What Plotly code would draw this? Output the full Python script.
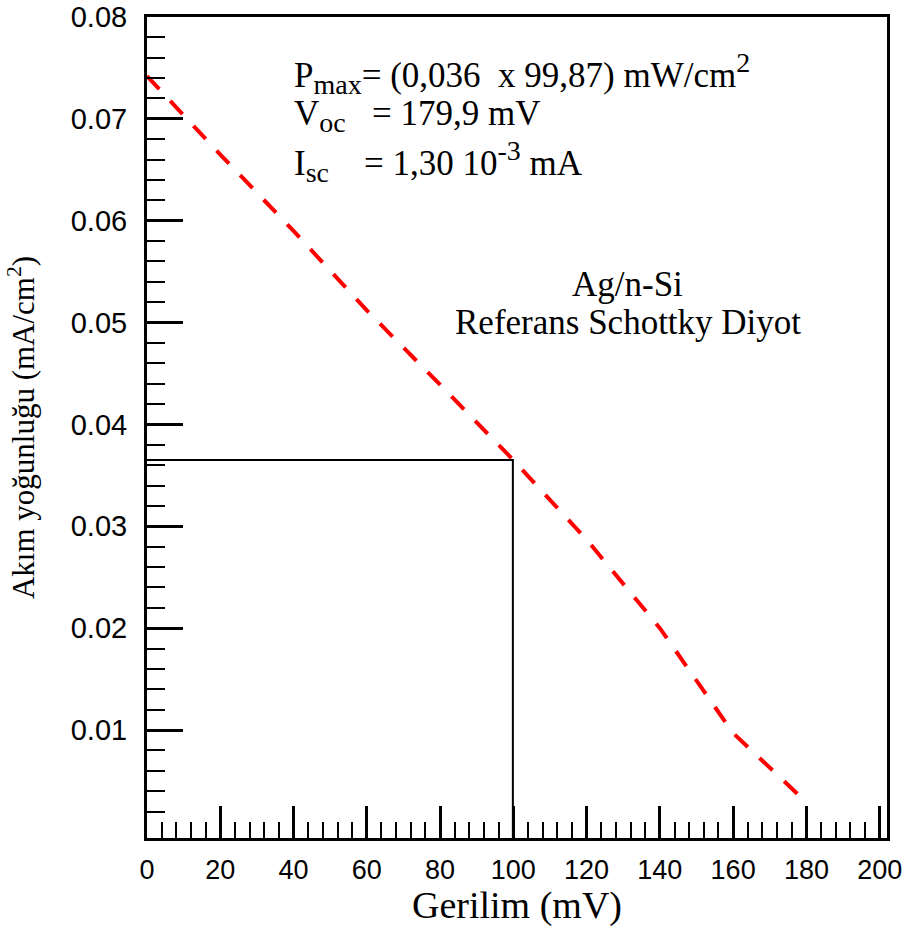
import plotly.graph_objects as go

# Data
voltage_mV = [0, 20, 40, 60, 80, 100, 120, 140, 160, 180]
current_density = [0.0742, 0.0665, 0.0590, 0.0512, 0.0439, 0.0365, 0.0287, 0.0200, 0.0097, 0.0029]

v_max = 99.87
j_max = 0.0365
y_floor = -0.0006

x_ticks = [0, 20, 40, 60, 80, 100, 120, 140, 160, 180, 200]
y_ticks = [0.01, 0.02, 0.03, 0.04, 0.05, 0.06, 0.07, 0.08]
y_tick_labels = ["0.01", "0.02", "0.03", "0.04", "0.05", "0.06", "0.07", "0.08"]
y_minor_ticks = [round(0.002 * k, 3) for k in range(1, 40) if k % 5 != 0]

SUB = '<span style="font-size:28px">{}</span>'
info_lines = [
    "P<sub>" + SUB.format("max") + "</sub>= (0,036\u00a0\u00a0x 99,87) mW/cm<sup>" + SUB.format("2") + "</sup>",
    "V<sub>" + SUB.format("oc") + "</sub>\u00a0\u00a0 = 179,9 mV",
    "I<sub>" + SUB.format("sc") + "</sub>\u00a0\u00a0\u00a0 = 1,30 10<sup>" + SUB.format("-3") + "</sup> mA",
]
device_lines = ["Ag/n-Si", "Referans Schottky Diyot"]

serif = "Liberation Serif, Times New Roman, serif"
sans = "Liberation Sans, Arial, sans-serif"

fig = go.Figure()

fig.add_trace(go.Scatter(
    x=[0, v_max, v_max], y=[j_max, j_max, y_floor],
    mode="lines", line=dict(color="black", width=2),
    showlegend=False, hoverinfo="skip", cliponaxis=False,
))

fig.add_trace(go.Scatter(
    x=voltage_mV, y=current_density,
    mode="lines", line=dict(color="#ff0000", width=4, dash="18px,16px"),
    showlegend=False,
))

info_y = [0.0745, 0.0703, 0.0658]
for txt, yy in zip(info_lines, info_y):
    fig.add_annotation(x=39.5, y=yy, xref="x", yref="y", text=txt,
                       showarrow=False, xanchor="left", yanchor="middle",
                       font=dict(family=serif, size=35, color="black"))

dev_y = [0.0537, 0.0500]
for txt, yy in zip(device_lines, dev_y):
    fig.add_annotation(x=131.2, y=yy, xref="x", yref="y", text=txt,
                       showarrow=False, xanchor="center", yanchor="middle",
                       font=dict(family=serif, size=35, color="black"))

fig.update_layout(
    width=910, height=927,
    margin=dict(l=147, r=23, t=17, b=89),
    paper_bgcolor="white", plot_bgcolor="white",
    showlegend=False,
)

fig.update_xaxes(
    range=[0, 202], tickmode="array", tickvals=x_ticks, automargin=False,
    ticks="inside", ticklen=32, tickwidth=3, tickcolor="black",
    showline=True, linewidth=3, linecolor="black", mirror=True,
    showgrid=False, zeroline=False,
    tickfont=dict(family=sans, size=27, color="black"),
    ticklabelstandoff=6,
    minor=dict(tickmode="linear", tick0=0, dtick=4, ticks="inside",
               ticklen=16, tickwidth=2, tickcolor="black", showgrid=False),
    title=dict(text="Gerilim (mV)", font=dict(family=serif, size=38, color="black"), standoff=8),
)

fig.update_yaxes(
    range=[y_floor, 0.08], tickmode="array", tickvals=y_ticks, ticktext=y_tick_labels,
    automargin=False,
    ticks="inside", ticklen=36, tickwidth=3, tickcolor="black",
    showline=True, linewidth=3, linecolor="black", mirror=True,
    showgrid=False, zeroline=False,
    tickfont=dict(family=sans, size=29, color="black"),
    ticklabelstandoff=11,
    minor=dict(tickmode="array", tickvals=y_minor_ticks, ticks="inside",
               ticklen=18, tickwidth=2, tickcolor="black", showgrid=False),
    title=dict(text="Akım yoğunluğu (mA/cm<sup>2</sup>)",
               font=dict(family=serif, size=31, color="black"), standoff=27),
)

fig.write_html("out.html")
